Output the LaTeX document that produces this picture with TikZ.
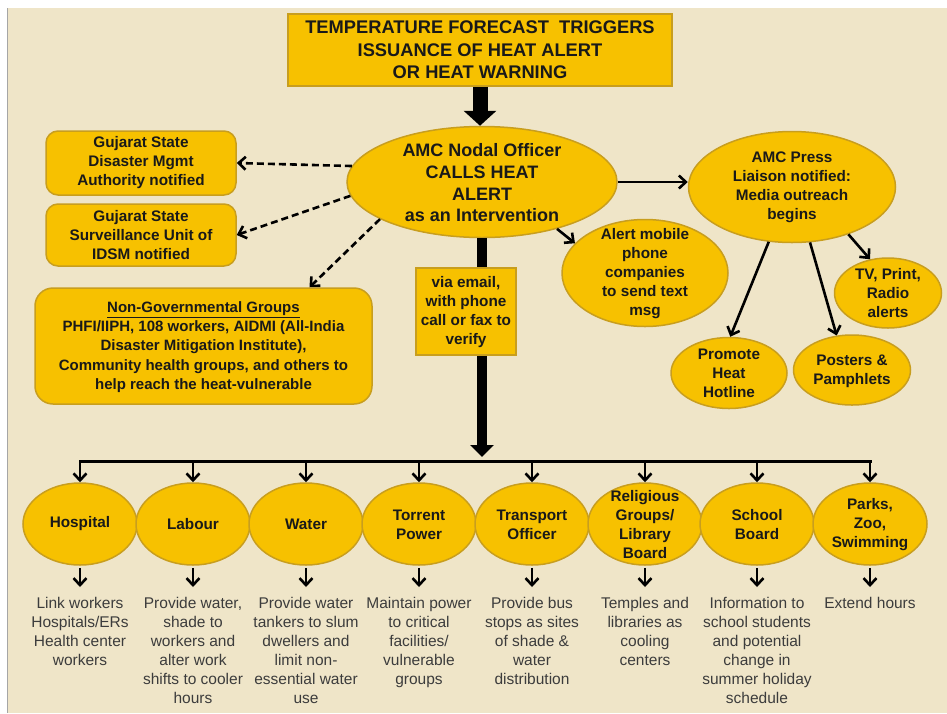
\documentclass[tikz,border=0pt]{standalone}
\usepackage{fontspec}
\setmainfont{Liberation Sans}
\usetikzlibrary{shapes.geometric,arrows.meta}
\definecolor{bgc}{RGB}{239,229,200}
\definecolor{goldfill}{RGB}{247,193,0}
\definecolor{goldline}{RGB}{200,158,30}
\definecolor{txt}{RGB}{25,25,25}
\definecolor{btxt}{RGB}{60,60,60}
\tikzset{
  gold/.style={fill=goldfill, draw=goldline, line width=1.5pt},
  gbox/.style={gold, rectangle, rounded corners=12pt, inner sep=0pt},
  gsq/.style={gold, rectangle, inner sep=0pt},
  gell/.style={gold, ellipse, inner sep=0pt},
  btext/.style={align=center, inner sep=0pt, text=txt, font=\bfseries\fontsize{15.3}{19}\selectfont},
  ltext/.style={align=center, inner sep=0pt, anchor=north, text=btxt, font=\fontsize{15.5}{19}\selectfont},
  arr/.style={draw=black, line width=2.6pt, -{Straight Barb[length=7pt,width=13pt]}},
  darr/.style={arr, dash pattern=on 7pt off 4pt},
  blk/.style={draw=black, line width=3pt},
}
\begin{document}
\begin{tikzpicture}[x=1pt,y=-1pt]
\useasboundingbox (0,0) rectangle (947,713);
\fill[bgc] (8,8) rectangle (947,713);
\draw[black!35, line width=1pt] (7.5,8) -- (7.5,713);

% title
\node[gsq, minimum width=384pt, minimum height=72pt] (title) at (480,50) {};
\node[btext, font=\bfseries\fontsize{18.3}{22.5}\selectfont] (titleT) at (title) {TEMPERATURE FORECAST\ \ TRIGGERS\\ISSUANCE OF HEAT ALERT\\OR HEAT WARNING};

% central
\node[gell, minimum width=270pt, minimum height=111pt] (nodal) at (482,182) {};
\node[btext, font=\bfseries\fontsize{18}{21.7}\selectfont] (nodalT) at (482,183) {AMC Nodal Officer\\CALLS HEAT\\ALERT\\as an Intervention};

\draw[black, line width=15pt, -{Triangle[width=32pt,length=15pt]}] (title.south) -- (title.south |- nodal.north);

% bus
\coordinate (bus) at (480,461);
\draw[black, line width=10pt, shorten >=4pt, -{Triangle[width=23pt,length=12pt]}] (nodal.south) -- (nodal.south |- bus);

% left boxes
\node[gbox, minimum width=190pt, minimum height=64pt] (guj1) at (141,163) {};
\node[btext] (guj1T) at (guj1) {Gujarat State\\Disaster Mgmt\\Authority notified};
\node[gbox, minimum width=190pt, minimum height=62pt] (guj2) at (141,235) {};
\node[btext] (guj2T) at (guj2) {Gujarat State\\Surveillance Unit of\\IDSM notified};
\node[gbox, rounded corners=18pt, minimum width=337pt, minimum height=116pt] (ngo) at (203.5,346) {};
\node[btext, font=\bfseries\fontsize{15}{19.3}\selectfont] (ngoT) at (203.5,347) {\underline{Non-Governmental Groups}\\PHFI/IIPH, 108 workers, AIDMI (All-India\\Disaster Mitigation Institute),\\Community health groups, and others to\\help reach the heat-vulnerable};

% via
\node[gsq, minimum width=100pt, minimum height=87pt] (via) at (466,311.5) {};
\node[btext] (viaT) at (466,312) {via email,\\with phone\\call or fax to\\verify};

% mobile, press
\node[gell, minimum width=166pt, minimum height=107pt] (mobile) at (645,273) {};
\node[btext] (mobileT) at (645,274) {Alert mobile\\phone\\companies\\to send text\\msg};
\node[gell, minimum width=207pt, minimum height=111pt] (press) at (792,187) {};
\node[btext] (pressT) at (792,187) {AMC Press\\Liaison notified:\\Media outreach\\begins};
\node[gell, minimum width=107pt, minimum height=70pt] (tv) at (888,293) {};
\node[btext] (tvT) at (888,293) {TV, Print,\\Radio\\alerts};
\node[gell, minimum width=116pt, minimum height=71pt] (promo) at (729,373) {};
\node[btext] (promoT) at (729,373) {Promote\\Heat\\Hotline};
\node[gell, minimum width=117pt, minimum height=70pt] (post) at (852,370) {};
\node[btext] (postT) at (852,371) {Posters \&\\Pamphlets};

% top connectors
\draw[darr] (nodal.173) -- (guj1.east);
\draw[darr] (nodal.186) -- (guj2.east);
\draw[darr] (nodal.200) -- (ngo.29.7);
\draw[arr] (nodal.east) -- (nodal.east -| press.west);
\draw[arr] (nodal.-32) -- (mobile.157);
\draw[arr] (press.-113) -- (promo.88);
\draw[arr] (press.-72) -- (post.114);
\draw[arr] (press.-40) -- (tv.118);

% bottom ellipses
\foreach \n/\x in {hosp/80, lab/193, wat/306, tor/419, tra/532, rel/645, sch/757, par/870}{
  \node[gell, minimum width=114pt, minimum height=82pt] (\n) at (\x,524) {};
}
\draw[blk, line cap=rect] (hosp.north |- bus) -- (par.north |- bus);
\foreach \n in {hosp, lab, wat, tor, tra, rel, sch, par}{
  \draw[arr] (\n.north |- bus) -- (\n.north);
}
\node[btext] (hospT) at (80,524) {Hospital};
\node[btext] (labT) at (193,524) {Labour};
\node[btext] (watT) at (306,524) {Water};
\node[btext] (torT) at (419,524.5) {Torrent\\Power};
\node[btext] (traT) at (532,524.5) {Transport\\Officer};
\node[btext] (relT) at (645,524.5) {Religious\\Groups/\\Library\\Board};
\node[btext] (schT) at (757,524.5) {School\\Board};
\node[btext] (parT) at (870,525) {Parks,\\Zoo,\\Swimming};

% bottom texts
\node[ltext] (hospL) at (80,597) {Link workers\\Hospitals/ERs\\Health center\\workers};
\node[ltext] (labL) at (193,597) {Provide water,\\shade to\\workers and\\alter work\\shifts to cooler\\hours};
\node[ltext] (watL) at (306,597) {Provide water\\tankers to slum\\dwellers and\\limit non-\\essential water\\use};
\node[ltext] (torL) at (419,597) {Maintain power\\to critical\\facilities/\\vulnerable\\groups};
\node[ltext] (traL) at (532,597) {Provide bus\\stops as sites\\of shade \&\\water\\distribution};
\node[ltext] (relL) at (645,597) {Temples and\\libraries as\\cooling\\centers};
\node[ltext] (schL) at (757,597) {Information to\\school students\\and potential\\change in\\summer holiday\\schedule};
\node[ltext] (parL) at (870,597) {Extend hours};
\foreach \n in {hosp, lab, wat, tor, tra, rel, sch, par}{
  \draw[arr, shorten <=2pt, shorten >=10pt] (\n.south) -- (\n.south |- \n L.north);
}
\end{tikzpicture}
\end{document}
